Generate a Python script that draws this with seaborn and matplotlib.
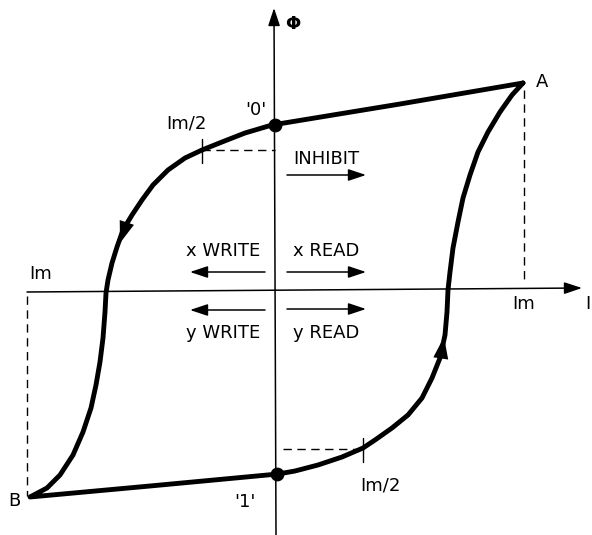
import matplotlib
matplotlib.use("Agg")
import matplotlib.pyplot as plt
import seaborn as sns
import pandas as pd

# ── values (image pixel units, y grows downward) ────────────────────────────────
# upper branch: A -> '0' -> Im/2 -> down through the I axis -> B
upper_I   = [523, 400, 272, 245, 222, 202, 185, 168, 153, 142, 132, 123,
             117, 112, 108, 106, 105, 103, 100, 96, 91, 83, 73, 60, 47, 30]
upper_phi = [83, 104, 125, 133, 142, 150, 158, 170, 185, 200, 215, 230,
             247, 263, 280, 293, 312, 338, 362, 385, 408, 432, 455, 475,
             488, 497]
# lower branch: B -> '1' -> Im/2 -> up through the I axis -> A
lower_I   = [30, 150, 278, 295, 318, 342, 363, 375, 392, 408, 422, 432,
             440, 445, 447, 448, 450, 453, 458, 463, 470, 478, 488, 500,
             512, 523]
lower_phi = [497, 486, 474, 471, 465, 457, 448, 440, 428, 415, 398, 378,
             358, 335, 312, 290, 272, 248, 222, 198, 175, 152, 132, 112,
             95, 83]

state_I     = [275, 277]          # remanent states '0' and '1'
state_phi   = [125, 474]
state_label = ["'0'", "'1'"]

half_I   = [202, 363]             # Im/2 drive points
half_phi = [150, 449]

# drive-current arrows: label and direction (+1 read side, -1 write side)
drive_labels = ["INHIBIT", "x WRITE", "x READ", "y WRITE", "y READ"]
drive_dirs   = [1, -1, 1, -1, 1]

AXIS_X = 275     # position of the Phi axis

sns.set_theme(style="white")
plt.rcParams["font.family"] = ["DejaVu Sans"]
plt.rcParams["text.color"] = "black"

fig = plt.figure(figsize=(5.92, 5.35), dpi=100)
ax = fig.add_axes([0, 0, 1, 1])
ax.set_xlim(0, 592)
ax.set_ylim(535, 0)
ax.axis("off")

# ── axes with arrow heads ──────────────────────────────────────────────────────
ax_kw = dict(arrowstyle="-|>,head_length=0.9,head_width=0.3", color="black",
             lw=1.1, mutation_scale=12, shrinkA=0, shrinkB=0)
ax.annotate("", xy=(274, 8), xytext=(AXIS_X + 1, 535), arrowprops=ax_kw)
ax.annotate("", xy=(582, 288), xytext=(27, 292), arrowprops=ax_kw)

# ── the hysteresis loop ────────────────────────────────────────────────────────
loop = pd.DataFrame({
    "I": upper_I + lower_I[1:],
    "phi": upper_phi + lower_phi[1:],
})
sns.lineplot(data=loop, x="I", y="phi", sort=False, estimator=None,
             color="black", lw=3.5, solid_joinstyle="round", ax=ax)

# direction arrows on the loop
loop_kw = dict(arrowstyle="-|>,head_length=1.3,head_width=0.45",
               color="black", lw=0, mutation_scale=12, shrinkA=0, shrinkB=0)
ax.annotate("", xy=(120, 243), xytext=(126, 225), arrowprops=loop_kw)
ax.annotate("", xy=(444, 337), xytext=(441, 357), arrowprops=loop_kw)

# remanent states
sns.scatterplot(x=state_I, y=state_phi, s=85, color="black",
                edgecolor="black", zorder=5, ax=ax)

# ── Im / Im/2 construction lines ───────────────────────────────────────────────
dash = dict(color="black", lw=1.0, dashes=(6, 4))
ax.plot([upper_I[0] + 1, upper_I[0] + 1], [90, 283], **dash)
ax.plot([upper_I[-1] - 3, upper_I[-1] - 3], [296, 496], **dash)
ax.plot([half_I[0], AXIS_X], [half_phi[0], half_phi[0]], **dash)
ax.plot([AXIS_X + 8, half_I[1]], [half_phi[1], half_phi[1]], **dash)
for hx, hy in zip(half_I, half_phi):
    ax.plot([hx, hx], [hy - 11, hy + 13], color="black", lw=1.0)

# ── drive current arrows ───────────────────────────────────────────────────────
drive_rows = [175, 272, 272, 310, 309]
text_rows  = [159, 251, 251, 333, 333]
arr_kw = dict(arrowstyle="-|>,head_length=0.9,head_width=0.3", color="black",
              lw=1.1, mutation_scale=12, shrinkA=0, shrinkB=0)
fs = 13
for lab, d, ry, ty in zip(drive_labels, drive_dirs, drive_rows, text_rows):
    if d > 0:
        ax.annotate("", xy=(366, ry), xytext=(287, ry), arrowprops=arr_kw)
        ax.text(326, ty, lab, ha="center", va="center", fontsize=fs)
    else:
        ax.annotate("", xy=(190, ry), xytext=(265, ry), arrowprops=arr_kw)
        ax.text(223, ty, lab, ha="center", va="center", fontsize=fs)

# ── labels ────────────────────────────────────────────────────────────────────
ax.text(293, 24, "Φ", ha="center", va="center", fontsize=13, weight="bold")
ax.text(585, 304, "I", ha="left", va="center", fontsize=fs)
ax.text(542, 82, "A", ha="center", va="center", fontsize=fs)
ax.text(14, 501, "B", ha="center", va="center", fontsize=fs)
ax.text(256, 110, state_label[0], ha="center", va="center", fontsize=fs)
ax.text(245, 502, state_label[1], ha="center", va="center", fontsize=fs)
ax.text(186, 124, "Im/2", ha="center", va="center", fontsize=fs)
ax.text(380, 485, "Im/2", ha="center", va="center", fontsize=fs)
ax.text(41, 274, "Im", ha="center", va="center", fontsize=fs)
ax.text(524, 304, "Im", ha="center", va="center", fontsize=fs)

fig.savefig("out.png", dpi=100, facecolor="white")
